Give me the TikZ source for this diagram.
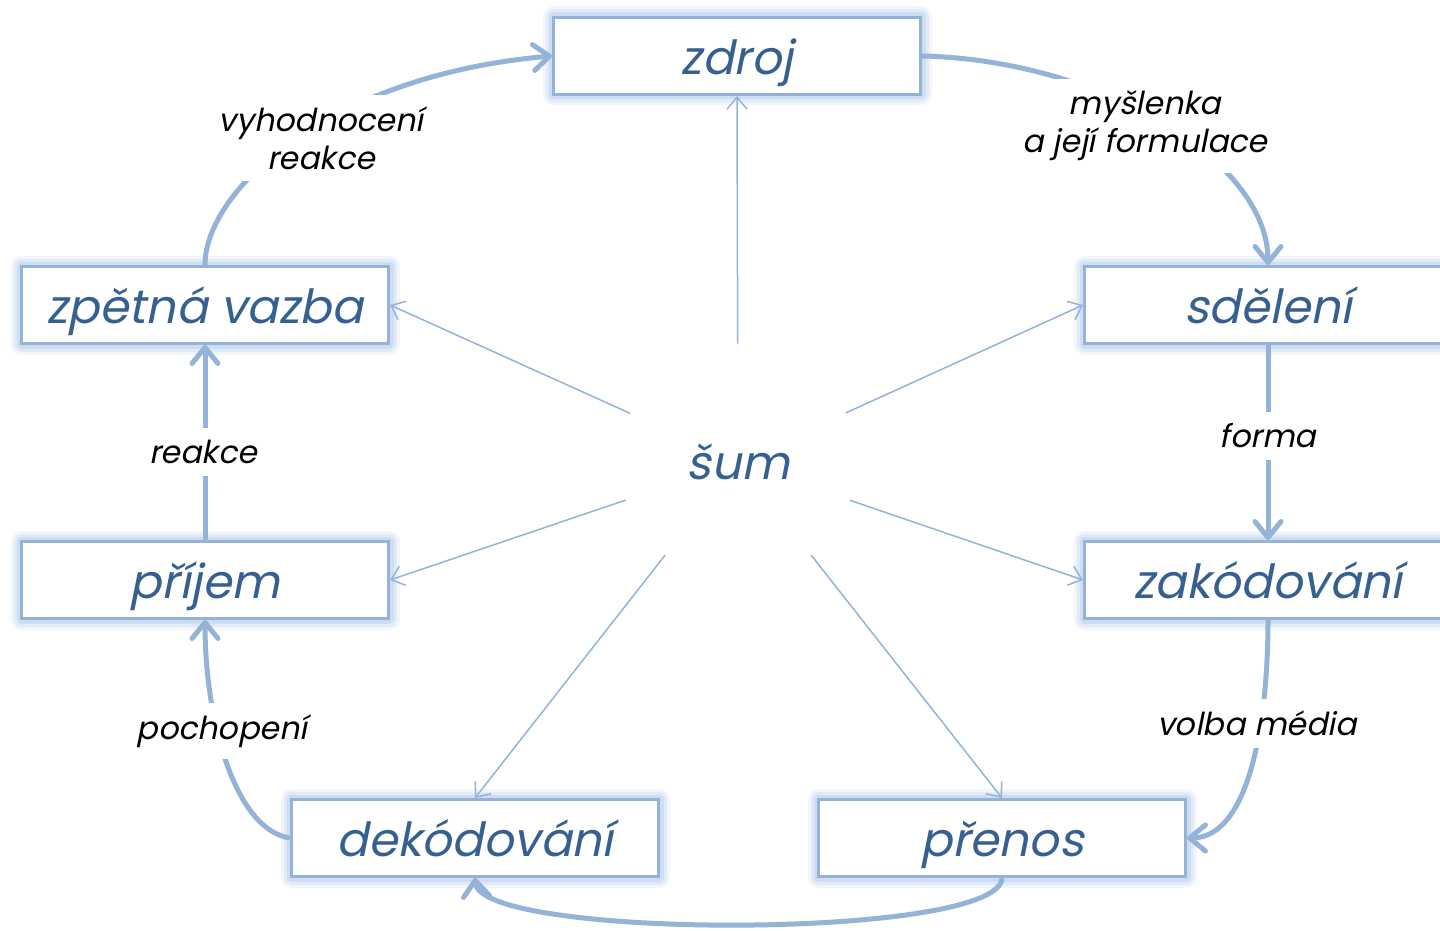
\documentclass[tikz,border=0pt]{standalone}
\usepackage{fontspec}
\setmainfont{Poppins}[FakeSlant=0.2]
\usetikzlibrary{arrows.meta}
\definecolor{boxc}{HTML}{95B3D7}
\definecolor{glowc}{HTML}{A9C6EA}
\definecolor{txtc}{HTML}{36608F}
\begin{document}
\begin{tikzpicture}[x=0.5pt,y=-0.5pt,
 box/.style={draw=boxc, line width=1.5pt, fill=white, minimum width=183.5pt, minimum height=38.5pt, inner sep=0pt, text=txtc, font=\fontsize{23.5}{28}\selectfont, text height=19pt, text depth=0.5pt,
   preaction={draw=glowc, line width=11pt, opacity=.15, line join=round},
   preaction={draw=glowc, line width=8pt, opacity=.22, line join=round},
   preaction={draw=glowc, line width=5pt, opacity=.35, line join=round}},
 conn/.style={draw=boxc, line width=2.5pt, -{Straight Barb[length=8pt,width=13pt,round]}},
 noise/.style={draw=boxc, line width=0.75pt, -{Straight Barb[length=6pt,width=10pt]}},
 lbl/.style={fill=white, inner sep=6pt, align=center, font=\fontsize{15.8}{19}\selectfont, text=black}]
\useasboundingbox (0,0) rectangle (1440,931);
\clip (0,0) rectangle (1440,931);
\fill[white] (0,0) rectangle (1440,931);
% boxes
\node[box] (zdroj) at (737,56) {zdroj};
\node[box] (sdel) at (1268,305) {sdělení};
\node[box] (zak) at (1268,580) {zakódování};
\node[box] (pren) at (1002,838) {přenos};
\node[box] (dek) at (475,838) {dekódování};
\node[box] (prij) at (205,580) {příjem};
\node[box] (zv) at (205,305) {zpětná vazba};
\node[circle, minimum size=118pt, inner sep=0pt, text=txtc, font=\fontsize{23.5}{28}\selectfont] (sum) at (738,462) {šum};
% noise arrows
\draw[noise] (sum) -- (zdroj.south);
\draw[noise] (sum) -- (sdel.west);
\draw[noise] (sum) -- (zak.west);
\draw[noise] (sum) -- (pren.north);
\draw[noise] (sum) -- (dek.north);
\draw[noise] (sum) -- (prij.east);
\draw[noise] (sum) -- (zv.east);
% cycle
\draw[conn] (zv.north) .. controls (205,190) and (330,75) .. (zdroj.west);
\draw[conn] (zdroj.east) .. controls (1100,60) and (1268,160) .. (sdel.north);
\draw[conn] (sdel.south) -- (zak.north);
\draw[conn] (zak.south) .. controls (1268,720) and (1250,838) .. (pren.east);
\draw[conn] (pren.south) .. controls (1000,940) and (480,940) .. (dek.south);
\draw[conn] (dek.west) .. controls (235,830) and (205,720) .. (prij.south);
\draw[conn] (prij.north) -- (zv.south);
% labels
\node[lbl] (l1) at (321,138) {vyhodnocení\\reakce};
\node[lbl] (l2) at (1145,126) {myšlenka\\a její formulace};
\node[lbl] (l3) at (1268,436) {forma};
\node[lbl] (l4) at (1257,723) {volba média};
\node[lbl] (l5) at (222,731) {pochopení};
\node[lbl] (l6) at (203,452) {reakce};
\end{tikzpicture}
\end{document}
